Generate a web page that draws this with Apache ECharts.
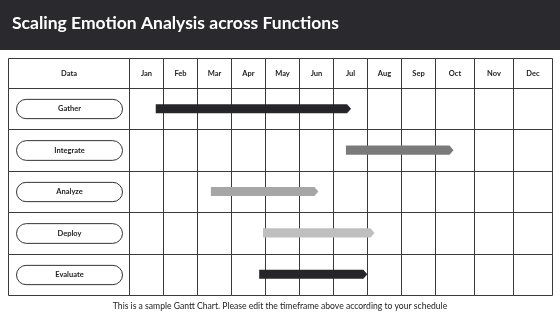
<!DOCTYPE html>
<html>
<head>
<meta charset="utf-8">
<script src="https://cdn.jsdelivr.net/npm/echarts@6/dist/echarts.min.js"></script>
<style>
  html, body { margin: 0; padding: 0; background: #fff; }
  #chart { width: 560px; height: 315px; }
</style>
</head>
<body>
<div id="chart"></div>
<script>
// chart data
const months = ['Jan', 'Feb', 'Mar', 'Apr', 'May', 'Jun', 'Jul', 'Aug', 'Sep', 'Oct', 'Nov', 'Dec']
const tasks = ['Gather', 'Integrate', 'Analyze', 'Deploy', 'Evaluate']
// start / end of each bar, in months counted from the start of Jan
const taskStart = [0.80, 6.39, 2.42, 3.95, 3.84]
const taskEnd = [6.54, 9.48, 5.58, 7.23, 7.02]

// styles
const barColors = ['#26262a', '#7a7a7a', '#a6a6a6', '#bfbfbf', '#26262a']
const lineColor = '#3a3a3a'
const font = 'Lato, "Open Sans", sans-serif'

// table layout: relative widths of the columns, relative heights of the rows
const colW = [3.544, 1, 1, 1, 1, 1, 1, 1, 1, 1, 1.149, 1.149, 1.149]
const rowH = [0.726, 1, 1, 1, 1, 1]
const colStart = colW.map((w, i) => colW.slice(0, i).reduce((a, b) => a + b, 0))
const rowStart = rowH.map((h, i) => rowH.slice(0, i).reduce((a, b) => a + b, 0))
const xMax = colW.reduce((a, b) => a + b, 0)
const yMax = rowH.reduce((a, b) => a + b, 0)

function monthToX(m) {
  const i = Math.min(Math.floor(m), 11)
  return colStart[i + 1] + (m - i) * colW[i + 1]
}

const cellData = []
for (let r = 0; r < rowH.length; r++) {
  for (let c = 0; c < colW.length; c++) cellData.push([c, r])
}

function renderCell(params, api) {
  const c = api.value(0)
  const r = api.value(1)
  const p0 = api.coord([colStart[c], rowStart[r]])
  const p1 = api.coord([colStart[c] + colW[c], rowStart[r] + rowH[r]])
  const x = Math.round(p0[0]) + 0.5
  const y = Math.round(p0[1]) + 0.5
  const w = Math.round(p1[0]) - Math.round(p0[0])
  const h = Math.round(p1[1]) - Math.round(p0[1])
  const children = [{
    type: 'rect',
    shape: { x, y, width: w, height: h },
    style: { fill: 'none', stroke: lineColor, lineWidth: 1 },
  }]
  if (r === 0) {
    children.push({
      type: 'text',
      style: {
        text: c === 0 ? 'Data' : months[c - 1],
        x: x + w / 2, y: y + h / 2,
        align: 'center', verticalAlign: 'middle',
        fill: '#222', font: 'bold 7.5px ' + font,
      },
    })
  } else if (c === 0) {
    const ph = h * 0.47
    const px = x + 8
    const pw = w - 15
    const py = y + (h - ph) / 2
    children.push({
      type: 'rect',
      shape: { x: px, y: py, width: pw, height: ph, r: ph / 2 },
      style: { fill: '#fff', stroke: '#333', lineWidth: 1 },
    })
    children.push({
      type: 'text',
      style: {
        text: tasks[r - 1],
        x: px + pw / 2, y: py + ph / 2,
        align: 'center', verticalAlign: 'middle',
        fill: '#222', font: 'bold 7.5px ' + font,
      },
    })
  }
  return { type: 'group', children }
}

const barData = tasks.map((t, i) => [monthToX(taskStart[i]), monthToX(taskEnd[i]), rowStart[i + 1] + rowH[i + 1] / 2, i])

function renderBar(params, api) {
  const s = api.coord([api.value(0), api.value(2)])
  const e = api.coord([api.value(1), api.value(2)])
  const h = api.size([0, 1])[1] * 0.22
  const tip = 4
  const top = s[1] - h / 2
  const bot = s[1] + h / 2
  return {
    type: 'polygon',
    shape: {
      points: [[s[0], top], [e[0] - tip, top], [e[0], s[1]], [e[0] - tip, bot], [s[0], bot]],
    },
    style: { fill: barColors[api.value(3)] },
  }
}

const chart = echarts.init(document.getElementById('chart'))
chart.setOption({
  animation: false,
  backgroundColor: '#fff',
  grid: { left: 8, right: 8, top: 58, bottom: 20 },
  xAxis: { type: 'value', min: 0, max: xMax, show: false },
  yAxis: { type: 'value', min: 0, max: yMax, inverse: true, show: false },
  graphic: [
    {
      type: 'rect',
      left: 0, top: 0,
      shape: { width: 560, height: 50 },
      style: { fill: '#2a2a2e' },
    },
    {
      type: 'text',
      left: 12, top: 14,
      style: { text: 'Scaling Emotion Analysis across Functions', fill: '#fff', font: 'bold 17.5px ' + font },
    },
    {
      type: 'text',
      left: 'center', top: 302,
      style: {
        text: 'This is a sample Gantt Chart. Please edit the timeframe above according to your schedule',
        fill: '#222', font: '8.6px ' + font,
      },
    },
  ],
  series: [
    {
      type: 'custom',
      renderItem: renderCell,
      data: cellData,
      encode: { x: 0, y: 1 },
      silent: true,
    },
    {
      type: 'custom',
      renderItem: renderBar,
      data: barData,
      encode: { x: [0, 1], y: 2 },
      z: 3,
      silent: true,
    },
  ],
})
</script>
</body>
</html>
